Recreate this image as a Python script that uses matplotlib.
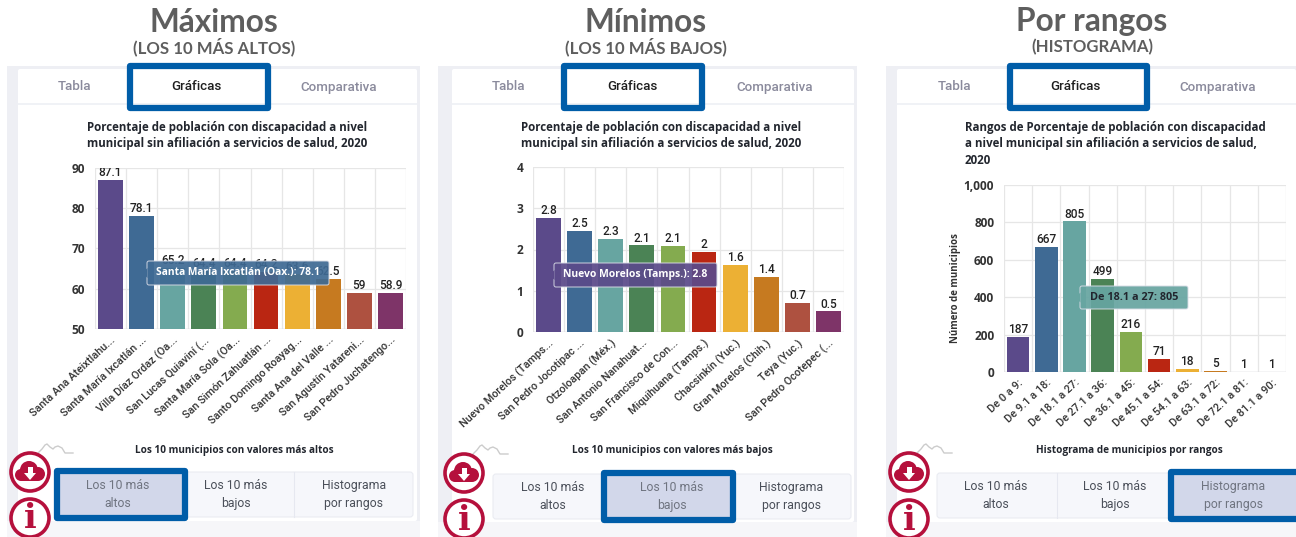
import matplotlib
matplotlib.use("Agg")
import matplotlib.pyplot as plt
from matplotlib.patches import FancyBboxPatch, Rectangle, Circle, Polygon
from matplotlib.transforms import ScaledTranslation

W, H = 1296, 537

# Data of the three charts
max_names = ["Santa Ana Ateixtlahu...", "Santa María Ixcatlán ...", "Villa Díaz Ordaz (Oa...", "San Lucas Quiaviní (...",
             "Santa María Sola (Oa...", "San Simón Zahuatlán ...", "Santo Domingo Roayag...", "Santa Ana del Valle ...",
             "San Agustín Yatareni...", "San Pedro Juchatengo..."]
max_values = [87.1, 78.1, 65.2, 64.4, 64.4, 64.2, 63.6, 62.5, 59, 58.9]
max_labels = ["87.1", "78.1", "65.2", "64.4", "64.4", "64.2", "63.6", "62.5", "59", "58.9"]

min_names = ["Nuevo Morelos (Tamps...", "San Pedro Jocotipac ...", "Otzoloapan (Méx.)", "San Antonio Nanahuat...",
             "San Francisco de Con...", "Miquihuana (Tamps.)", "Chacsinkín (Yuc.)", "Gran Morelos (Chih.)",
             "Teya (Yuc.)", "San Pedro Ocotepec (..."]
# bar heights are unrounded, the labels show them rounded
min_values = [2.76, 2.45, 2.25, 2.1, 2.08, 1.95, 1.62, 1.34, 0.71, 0.5]
min_labels = ["2.8", "2.5", "2.3", "2.1", "2.1", "2", "1.6", "1.4", "0.7", "0.5"]

range_names = ["De 0 a 9:", "De 9.1 a 18:", "De 18.1 a 27:", "De 27.1 a 36:", "De 36.1 a 45:",
               "De 45.1 a 54:", "De 54.1 a 63:", "De 63.1 a 72:", "De 72.1 a 81:", "De 81.1 a 90:"]
range_values = [187, 667, 805, 499, 216, 71, 18, 5, 1, 1]
range_labels = ["187", "667", "805", "499", "216", "71", "18", "5", "1", "1"]

# Color palette of the bars
colors = ["#5B4A8A", "#3F6A94", "#67A5A1", "#4B8355", "#84AB4F",
          "#BA2612", "#ECB034", "#C67A20", "#AE5140", "#7E3468"]

BLUE = "#005DA8"
CRIMSON = "#B5103C"
HEAD = "Lato"
BODY = "Open Sans"
TAB = "Roboto"

fig = plt.figure(figsize=(W / 100, H / 100), dpi=100, facecolor="white")

# Overlay in pixel coordinates for the page chrome
bg = fig.add_axes([0, 0, 1, 1], zorder=0)
bg.set_xlim(0, W)
bg.set_ylim(H, 0)
bg.axis("off")
top = fig.add_axes([0, 0, 1, 1], zorder=5)
top.set_xlim(0, W)
top.set_ylim(H, 0)
top.axis("off")
top.patch.set_alpha(0)


def rrect(ax, x0, y0, x1, y1, fc, ec="none", lw=0, r=2, z=2, alpha=None):
    p = FancyBboxPatch((x0 + r, y0 + r), x1 - x0 - 2 * r, y1 - y0 - 2 * r,
                       boxstyle="round,pad=%f,rounding_size=%f" % (r, r),
                       fc=fc, ec=ec, lw=lw, zorder=z, alpha=alpha)
    ax.add_patch(p)


def icons(x, y_cloud, y_info):
    # Round download and info buttons
    for yy in (y_cloud, y_info):
        top.add_patch(Circle((x, yy), 19, fc="white", ec=CRIMSON, lw=2.6, zorder=6))
    # cloud
    for dx, dy, r in ((-9, 3, 6), (-1, -2, 9), (8, 2, 7)):
        top.add_patch(Circle((x + dx, y_cloud + dy), r, fc=CRIMSON, ec="none", zorder=7))
    top.add_patch(Rectangle((x - 9, y_cloud + 2), 17, 7, fc=CRIMSON, ec="none", zorder=7))
    top.add_patch(Polygon([(x - 6, y_cloud + 1), (x + 6, y_cloud + 1), (x, y_cloud + 8)], fc="white", zorder=8))
    top.add_patch(Rectangle((x - 2.5, y_cloud - 5), 5, 7, fc="white", ec="none", zorder=8))
    # info
    top.text(x, y_info + 1, "i", ha="center", va="center", fontsize=24, fontweight="bold",
             family="DejaVu Serif", color=CRIMSON, zorder=8)


def panel(c):
    # Headings
    bg.text(c["cx"], 22, c["head"], ha="center", va="center", fontsize=22.8, fontweight="bold",
            family=HEAD, color="#5E5E5E")
    bg.text(c["cx"], 47, c["sub"], ha="center", va="center", fontsize=12.1, fontweight="bold",
            family=HEAD, color="#5E5E5E")
    # Grey card background and white card
    bg.add_patch(Rectangle((c["gx0"], 66), c["gx1"] - c["gx0"], H - 66, fc="#EEEFF4", ec="none", zorder=1))
    bg.add_patch(Rectangle((c["gx0"], c["y1"]), c["gx1"] - c["gx0"], H - c["y1"], fc="#F6F6F9", ec="none", zorder=1))
    rrect(bg, c["x0"], 69, c["x1"], c["y1"], "white", z=2)
    bg.plot([c["x0"], c["x1"]], [104, 104], color="#EEF0F5", lw=1.2, zorder=3)
    # Tabs
    for txt, tx, col in (("Tabla", c["tabs"][0], "#8A8A9C"),
                         ("Gráficas", c["tabs"][1], "#1E1E1E"),
                         ("Comparativa", c["tabs"][2], "#8A8A9C")):
        top.text(tx, 87, txt, ha="center", va="center", fontsize=9.6, family=TAB, color=col, fontweight="medium")
    top.add_patch(Rectangle((c["tab_box"][0], 65.5), c["tab_box"][1] - c["tab_box"][0], 42.5,
                            fc="none", ec=BLUE, lw=4.5, joinstyle="round", zorder=6))
    # Chart title
    for i, line in enumerate(c["title"]):
        top.text(c["tx"], 127 + i * 17, line, ha="left", va="center", fontsize=8.3, fontweight="bold",
                 family=BODY, color="#22262E")
    # Footer
    top.text(c["fx"], c["fy"], c["foot"], ha="center", va="center", fontsize=7.2, fontweight="bold",
             family=BODY, color="#22262E")
    # Small mountain watermark
    mx, my = c["mx"], c["fy"] + 3
    top.plot([mx, mx + 4, mx + 7, mx + 9, mx + 12, mx + 15, mx + 17, mx + 20, mx + 24, mx + 27, mx + 35],
             [my, my - 4, my - 8, my - 9, my - 6, my - 4, my - 6, my - 7, my - 5, my, my],
             color="#CCCCCC", lw=1, zorder=4)
    # Bottom buttons
    bx0, bx1, by0, by1 = c["bx0"], c["bx1"], c["by0"], c["by1"]
    rrect(bg, bx0, by0, bx1, by1, "#F6F7FB", ec="#EAECF2", lw=0.8, r=3, z=3)
    bw = (bx1 - bx0) / 3
    for k in range(3):
        if k > 0:
            bg.plot([bx0 + k * bw] * 2, [by0, by1], color="#E6E8F0", lw=0.8, zorder=4)
    a0, a1 = c["active"]
    top.add_patch(Rectangle((a0, by0 - 1), a1 - a0, by1 - by0 + 2, fc="#D2D7EA", ec=BLUE, lw=4.5,
                            joinstyle="round", zorder=5))
    labs = [("Los 10 más", "altos"), ("Los 10 más", "bajos"), ("Histograma", "por rangos")]
    for k, (l1, l2) in enumerate(labs):
        col = "#6F7480" if k == c["act_k"] else "#4A4F59"
        top.text(c["btx"][k], (by0 + by1) / 2 - 9, l1, ha="center", va="center", fontsize=8.8, family=TAB, color=col, zorder=7)
        top.text(c["btx"][k], (by0 + by1) / 2 + 9, l2, ha="center", va="center", fontsize=8.8, family=TAB, color=col, zorder=7)
    icons(c["ix"], c["iy"][0], c["iy"][1])


def chart(box, names, values, labels, ylim, yticks, ylabels, rot_size, shift):
    x0, y0, x1, y1 = box
    ax = fig.add_axes([x0 / W, 1 - y1 / H, (x1 - x0) / W, (y1 - y0) / H], zorder=3)
    ax.bar(range(len(values)), values, color=colors, width=0.8, zorder=3)
    ax.set_xlim(-0.5, len(values) - 0.5)
    ax.set_ylim(*ylim)
    ax.set_yticks(yticks)
    ax.set_yticklabels(ylabels, fontsize=8.6, fontweight="bold", family=BODY, color="#333333")
    ax.set_xticks(range(len(values)))
    ax.set_xticklabels(names, rotation=43, ha="right", va="top", rotation_mode="anchor",
                       fontsize=rot_size, fontweight="medium", family=TAB, color="#333333")
    # Rotated labels end a bit right of the bar centre
    for t in ax.get_xticklabels():
        t.set_transform(t.get_transform() + ScaledTranslation(shift / 100, 0, fig.dpi_scale_trans))
    ax.tick_params(length=0, pad=7)
    ax.tick_params(axis="x", pad=4)
    # Vertical grid sits between the bars
    for k in range(len(values) + 1):
        ax.axvline(k - 0.5, color="#E6E6E6", lw=0.9, zorder=1)
    ax.grid(axis="y", color="#E6E6E6", lw=0.9, zorder=1)
    ax.set_axisbelow(True)
    for s in ax.spines.values():
        s.set_visible(False)
    ax.axhline(ylim[0], color="#D8D8E0", lw=1, zorder=2)
    for k, v in enumerate(values):
        ax.annotate(labels[k], (k, v), xytext=(0, 0.6), textcoords="offset points", ha="center", va="bottom",
                    fontsize=8.6, fontweight="medium", family=TAB, color="#222222", zorder=4,
                    annotation_clip=False, clip_on=True)
    return ax


def tooltip(x0, y0, x1, y1, fc, text, size, tc="white"):
    # Tooltip floating above the bars, labels show faintly through it
    rrect(top, x0, y0, x1, y1, fc, ec="#D9DCE6", lw=0.7, r=2, z=6, alpha=0.93)
    ym = (y0 + y1) / 2
    top.add_patch(Polygon([(x0 + 0.5, ym - 5), (x0 - 5, ym), (x0 + 0.5, ym + 5)], fc=fc, ec="none", zorder=7))
    top.text((x0 + x1) / 2, ym, text, ha="center", va="center", fontsize=size, fontweight="bold",
             family=BODY, color=tc, zorder=8)


panels = [
    dict(cx=214, head="Máximos", sub="(LOS 10 MÁS ALTOS)", gx0=7, gx1=420, x0=18, x1=417, y1=521,
         tabs=(75, 196, 339), tab_box=(129.5, 268), tx=87,
         title=["Porcentaje de población con discapacidad a nivel",
                "municipal sin afiliación a servicios de salud, 2020"],
         fx=234, fy=450, foot="Los 10 municipios con valores más altos", mx=38,
         bx0=55, bx1=413, by0=472, by1=517, active=(56.5, 185), act_k=0, btx=(117.5, 236, 354),
         ix=30, iy=(472, 518)),
    dict(cx=646, head="Mínimos", sub="(LOS 10 MÁS BAJOS)", gx0=438, gx1=857, x0=452, x1=854, y1=522,
         tabs=(509, 632, 775), tab_box=(563.5, 702), tx=521,
         title=["Porcentaje de población con discapacidad a nivel",
                "municipal sin afiliación a servicios de salud, 2020"],
         fx=672, fy=451, foot="Los 10 municipios con valores más bajos", mx=473,
         bx0=493, bx1=851, by0=474, by1=519, active=(604, 733), act_k=1, btx=(553, 672, 791),
         ix=464, iy=(473, 519)),
    dict(cx=1092, head="Por rangos", sub="(HISTOGRAMA)", gx0=886, gx1=1296, x0=897, x1=1296, y1=522,
         tabs=(954, 1075, 1218), tab_box=(1009.5, 1147), tx=965,
         title=["Rangos de Porcentaje de población con discapacidad",
                "a nivel municipal sin afiliación a servicios de salud,",
                "2020"],
         fx=1129, fy=450, foot="Histograma de municipios por rangos", mx=917,
         bx0=937, bx1=1296, by0=473, by1=518, active=(1171, 1300), act_k=2, btx=(996, 1115, 1233),
         ix=909, iy=(472, 519)),
]

for c in panels:
    panel(c)

# Chart 1: top ten values
chart((95, 168, 406, 329), max_names, max_values, max_labels, (50, 90), [50, 60, 70, 80, 90],
      ["50", "60", "70", "80", "90"], 7.8, 6)
# Chart 2: lowest ten values
chart((533, 167, 844, 332), min_names, min_values, min_labels, (0, 4), [0, 1, 2, 3, 4],
      ["0", "1", "2", "3", "4"], 7.8, 6)
# Chart 3: histogram of municipalities by range
ax3 = chart((1004, 185, 1286, 372), range_names, range_values, range_labels, (0, 1000), [0, 200, 400, 600, 800, 1000],
            ["0", "200", "400", "600", "800", "1,000"], 7.9, 3)
ax3.set_ylabel("Número de municipios", fontsize=7.0, fontweight="bold", family=BODY, color="#333333", labelpad=2, y=0.45)

tooltip(147, 261, 329, 285, colors[1], "Santa María Ixcatlán (Oax.): 78.1", 7.4)
tooltip(554, 263, 717, 287, colors[0], "Nuevo Morelos (Tamps.): 2.8", 7.5)
tooltip(1080, 286, 1188, 309, colors[2], "De 18.1 a 27: 805", 7.8, tc="#22262E")

fig.savefig("out.png", dpi=100)
